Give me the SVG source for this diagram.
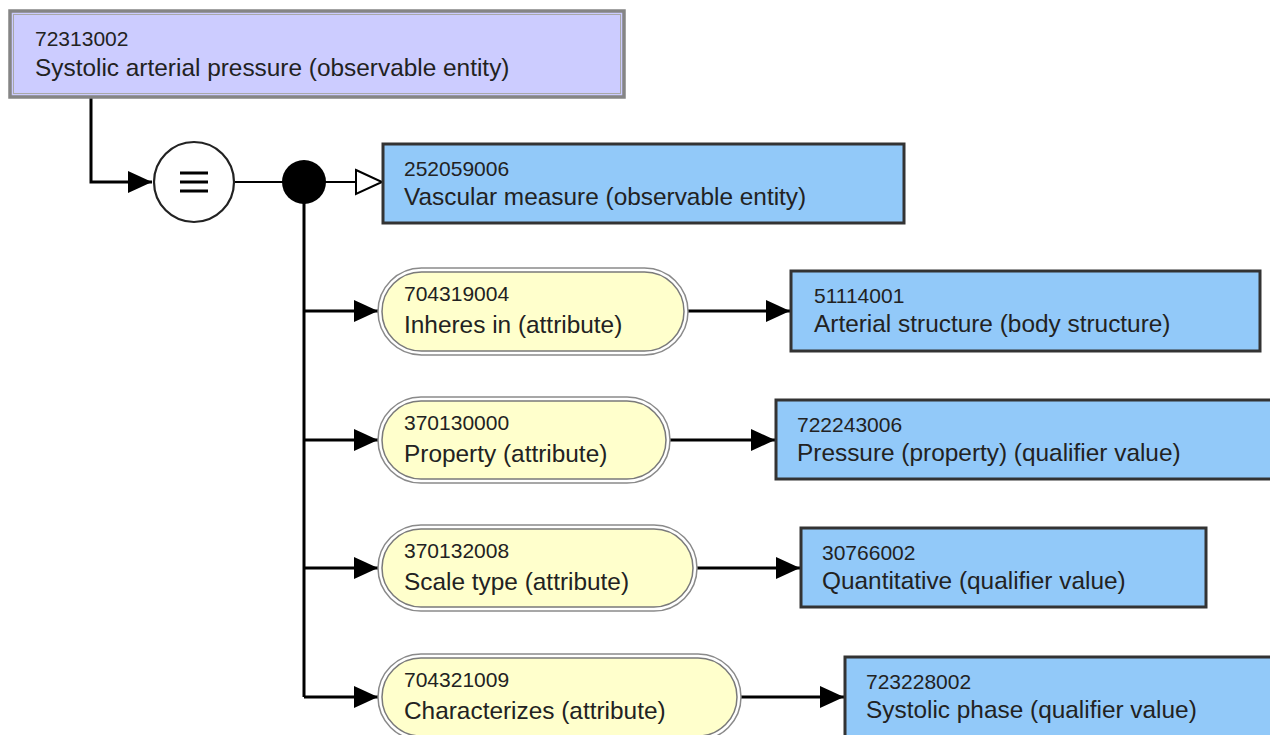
<svg xmlns="http://www.w3.org/2000/svg" width="1270" height="735" viewBox="0 0 1270 735">
  <defs>
    <style>
      text { font-family: "Liberation Sans", Arial, sans-serif; fill: #222; }
      .id { font-size: 21px; }
      .lbl { font-size: 24.4px; }
      .concept { fill: #92c9f9; stroke: #333; stroke-width: 3; }
      .focus { fill: #ccccff; stroke: #858585; stroke-width: 3.5; }
      .focus-in { fill: none; stroke: #a8a8a8; stroke-width: 1; }
      .attr { fill: #ffffcc; stroke: #7a7a7a; stroke-width: 1.5; }
      .attr-out { fill: #fff; stroke: #8a8a8a; stroke-width: 1.5; }
      .wire { fill: none; stroke: #000; stroke-width: 3; }
      .thin { fill: none; stroke: #000; stroke-width: 2; }
    </style>
    <marker id="arrow" viewBox="0 0 24 22" refX="24" refY="11" markerWidth="24" markerHeight="22" markerUnits="userSpaceOnUse" orient="auto">
      <path d="M0,0 L24,11 L0,22 Z" fill="#000"/>
    </marker>
  </defs>

  <!-- connectors -->
  <g id="connectors">
    <path class="wire" d="M91,97 V182 H152" marker-end="url(#arrow)"/>
    <line class="thin" x1="235" y1="182" x2="284" y2="182"/>
    <line class="thin" x1="324" y1="182" x2="356" y2="182"/>
    <path d="M356,170 L382,182 L356,194 Z" fill="#fff" stroke="#000" stroke-width="2"/>
    <path class="wire" d="M304,182 V697"/>
    <path class="wire" d="M304,311 H378" marker-end="url(#arrow)"/>
    <path class="wire" d="M304,440 H378" marker-end="url(#arrow)"/>
    <path class="wire" d="M304,568 H378" marker-end="url(#arrow)"/>
    <path class="wire" d="M304,697 H378" marker-end="url(#arrow)"/>
    <path class="wire" d="M688,311 H790" marker-end="url(#arrow)"/>
    <path class="wire" d="M670,440 H775" marker-end="url(#arrow)"/>
    <path class="wire" d="M697,568 H800" marker-end="url(#arrow)"/>
    <path class="wire" d="M741,697 H844" marker-end="url(#arrow)"/>
  </g>

  <!-- defining concept -->
  <g id="focus-72313002">
    <rect class="focus" x="10" y="11" width="614" height="86"/>
    <rect class="focus-in" x="13.5" y="14.5" width="607" height="79"/>
    <text class="id" x="35" y="46">72313002</text>
    <text class="lbl" x="35" y="76">Systolic arterial pressure (observable entity)</text>
  </g>

  <!-- equivalence operator -->
  <g id="equivalent">
    <circle cx="194" cy="182" r="40" fill="#fff" stroke="#222" stroke-width="2.2"/>
    <path d="M180,173 H208 M180,182 H208 M180,191 H208" stroke="#000" stroke-width="3"/>
  </g>

  <!-- conjunction -->
  <g id="conjunction">
    <circle cx="304" cy="182" r="22" fill="#000"/>
  </g>

  <g id="parent-252059006">
    <rect class="concept" x="383" y="144" width="521" height="79"/>
    <text class="id" x="404" y="176">252059006</text>
    <text class="lbl" x="404" y="205">Vascular measure (observable entity)</text>
  </g>

  <!-- attribute 1 -->
  <g id="attr-704319004">
    <rect class="attr-out" x="378" y="268" width="310" height="87" rx="43.5"/>
    <rect class="attr" x="382" y="272" width="302" height="79" rx="39.5"/>
    <text class="id" x="404" y="301">704319004</text>
    <text class="lbl" x="404" y="333">Inheres in (attribute)</text>
  </g>
  <g id="value-51114001">
    <rect class="concept" x="791" y="271" width="469" height="80"/>
    <text class="id" x="814" y="303">51114001</text>
    <text class="lbl" x="814" y="332">Arterial structure (body structure)</text>
  </g>

  <!-- attribute 2 -->
  <g id="attr-370130000">
    <rect class="attr-out" x="378" y="397" width="292" height="86" rx="43"/>
    <rect class="attr" x="382" y="401" width="284" height="78" rx="39"/>
    <text class="id" x="404" y="430">370130000</text>
    <text class="lbl" x="404" y="462">Property (attribute)</text>
  </g>
  <g id="value-722243006">
    <rect class="concept" x="776" y="400" width="500" height="79"/>
    <text class="id" x="797" y="432">722243006</text>
    <text class="lbl" x="797" y="461">Pressure (property) (qualifier value)</text>
  </g>

  <!-- attribute 3 -->
  <g id="attr-370132008">
    <rect class="attr-out" x="378" y="525" width="319" height="86" rx="43"/>
    <rect class="attr" x="382" y="529" width="311" height="78" rx="39"/>
    <text class="id" x="404" y="558">370132008</text>
    <text class="lbl" x="404" y="590">Scale type (attribute)</text>
  </g>
  <g id="value-30766002">
    <rect class="concept" x="801" y="528" width="405" height="79"/>
    <text class="id" x="822" y="560">30766002</text>
    <text class="lbl" x="822" y="589">Quantitative (qualifier value)</text>
  </g>

  <!-- attribute 4 -->
  <g id="attr-704321009">
    <rect class="attr-out" x="378" y="654" width="363" height="86" rx="43"/>
    <rect class="attr" x="382" y="658" width="355" height="78" rx="39"/>
    <text class="id" x="404" y="687">704321009</text>
    <text class="lbl" x="404" y="719">Characterizes (attribute)</text>
  </g>
  <g id="value-723228002">
    <rect class="concept" x="845" y="657" width="431" height="82"/>
    <text class="id" x="866" y="689">723228002</text>
    <text class="lbl" x="866" y="718">Systolic phase (qualifier value)</text>
  </g>
</svg>
